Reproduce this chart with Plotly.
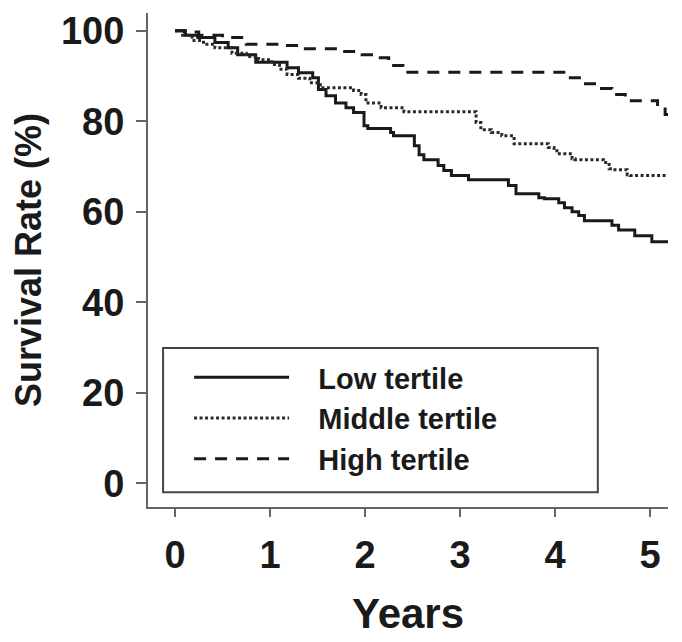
import plotly.graph_objects as go

# Kaplan-Meier style step data (years, survival %)
low_t = [0, 0.11, 0.24, 0.42, 0.56, 0.66, 0.85, 1.18, 1.30, 1.45, 1.51, 1.59, 1.69, 1.80, 1.88,
         1.99, 2.03, 2.27, 2.30, 2.52, 2.57, 2.62, 2.77, 2.83, 2.91, 3.09, 3.51, 3.59, 3.83,
         3.89, 4.04, 4.10, 4.18, 4.25, 4.31, 4.60, 4.67, 4.84, 5.02, 5.21]
low_s = [100, 99, 98.5, 97.4, 96.2, 94.7, 93, 91.8, 90.7, 89.6, 87, 85.6, 84, 83, 81.9,
         79, 78.4, 77.5, 76.8, 74.6, 72.6, 71.5, 70.2, 69.1, 68, 67.1, 65.8, 64, 63.1,
         62.9, 62, 60.9, 60, 59.2, 58, 57, 56, 54.7, 53.4, 53.4]

mid_t = [0, 0.08, 0.18, 0.30, 0.42, 0.60, 0.75, 0.88, 1.02, 1.10, 1.18, 1.30, 1.42, 1.53,
         1.88, 1.96, 2.01, 2.17, 2.41, 3.17, 3.22, 3.33, 3.44, 3.57, 3.93, 3.99, 4.02, 4.18,
         4.21, 4.51, 4.57, 4.60, 4.76, 4.79, 5.21]
mid_s = [100, 99, 97.8, 97, 96.2, 95, 94.3, 93.6, 92.5, 91.5, 90.3, 89.5, 88.5, 87.4,
         86.8, 85.9, 84, 83, 82.1, 79.7, 78.1, 77.5, 76.8, 75, 74.2, 73.5, 72.8, 71.7,
         71.5, 70.9, 69.5, 69.3, 68.2, 68, 68]

high_t = [0, 0.10, 0.25, 0.50, 0.75, 1.16, 1.34, 1.74, 1.97, 2.14, 2.25, 2.40, 4.12, 4.28,
          4.44, 4.60, 4.74, 5.08, 5.16, 5.21]
high_s = [100, 99.7, 99, 98.5, 97, 96.7, 96, 95.4, 94.7, 94, 92.3, 90.8, 89.6, 88.3,
          87.2, 85.9, 84.5, 83.2, 81.5, 81.5]

series_names = ["Low tertile", "Middle tertile", "High tertile"]
x_ticks = [0, 1, 2, 3, 4, 5]
y_ticks = [0, 20, 40, 60, 80, 100]

FONT = "Liberation Sans, Arial, sans-serif"
AX = "#666666"
INK = "#1a1a1a"
PAD = "   "  # gap between legend line sample and label

fig = go.Figure()
fig.add_trace(go.Scatter(x=low_t, y=low_s, mode="lines", name=PAD + series_names[0],
                         line=dict(color=INK, width=3, shape="hv", dash="solid")))
fig.add_trace(go.Scatter(x=mid_t, y=mid_s, mode="lines", name=PAD + series_names[1],
                         line=dict(color="#2a2a2a", width=3, shape="hv", dash="3px,2.5px")))
fig.add_trace(go.Scatter(x=high_t, y=high_s, mode="lines", name=PAD + series_names[2],
                         line=dict(color=INK, width=3, shape="hv", dash="12px,9px")))

# legend frame (paper coordinates of the plotting area)
fig.add_shape(type="rect", xref="paper", yref="paper", x0=0.029, x1=0.865, y0=0.030, y1=0.322,
              line=dict(color="#444444", width=2), fillcolor="rgba(0,0,0,0)", layer="below")

# the page body adds an 8px offset, so the figure is 8px smaller than the window
fig.update_layout(
    width=674, height=634,
    margin=dict(l=140, r=14, t=5, b=135),
    paper_bgcolor="white", plot_bgcolor="white",
    font=dict(family=FONT, color=INK, size=36, weight="bold"),
    showlegend=True,
    legend=dict(x=0.079, y=0.314, xanchor="left", yanchor="top",
                bgcolor="rgba(0,0,0,0)", borderwidth=0,
                font=dict(family=FONT, size=29, color=INK, weight="bold"),
                itemwidth=95, tracegroupgap=0),
)
fig.update_xaxes(range=[-0.284, 5.19], tickvals=x_ticks, ticktext=[str(v) for v in x_ticks],
                 showgrid=False, zeroline=False, showline=True, linecolor=AX, linewidth=2,
                 ticks="outside", ticklen=8, tickwidth=2, tickcolor=AX, automargin=False,
                 tickfont=dict(size=38, weight="bold"), ticklabelstandoff=5,
                 title=dict(text="Years", font=dict(size=42, weight="bold"), standoff=24))
fig.update_yaxes(range=[-5.2, 103.9], tickvals=y_ticks, ticktext=[str(v) for v in y_ticks],
                 showgrid=False, zeroline=False, showline=True, linecolor=AX, linewidth=2,
                 ticks="outside", ticklen=10, tickwidth=2, tickcolor=AX, automargin=False,
                 tickfont=dict(size=38, weight="bold"), ticklabelstandoff=4,
                 title=dict(text="Survival Rate (%)", font=dict(size=36, weight="bold"), standoff=8))

fig.write_html("out.html")
